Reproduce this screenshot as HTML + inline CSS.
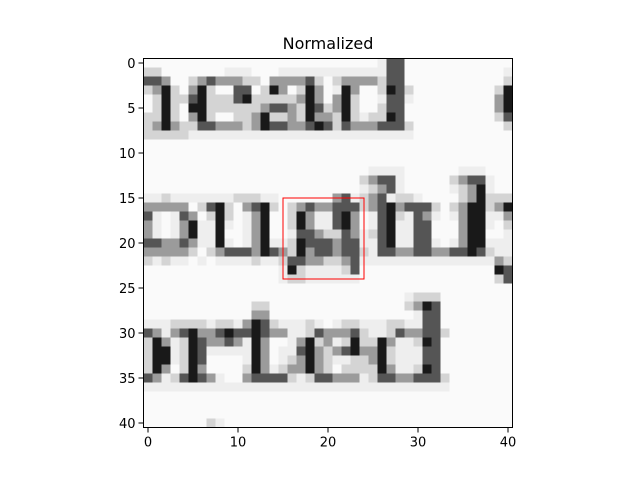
<!DOCTYPE html>
<html><head><meta charset="utf-8"><style>
html,body{margin:0;padding:0;background:#fff;}
svg{display:block;font-family:"DejaVu Sans","Liberation Sans",sans-serif;}
</style></head><body>
<svg id="chart" width="640" height="480" viewBox="0 0 640 480" xmlns="http://www.w3.org/2000/svg">
<rect width="640" height="480" fill="#fff"/>
<text x="328" y="49" text-anchor="middle" font-size="16" fill="#000">Normalized</text>
<g id="cells" shape-rendering="crispEdges"></g>
<g id="overlay"></g>
<g id="axes"></g>
</svg>
<script>
const imageRows = [
"..........................,##............",
"::.......,,,...,,,,,,,,,,,,##...........,",
"##+..:+#+++::.++++#:.:++++:##...........:",
":+@:.+@:..##.:@+.:@+.,@+..:@#:.........:@",
".:@::#@:::#@:::::+@+.+@:..,##,.........+@",
".:@:.@@::::::+##+:@#:+@:..:##..........+@",
"::@:.+@:..::+@::+:@++:@:,::@#..........:#",
":+@+::##+++:+@##++#@#:#+++###:..........:",
":::::,,,,,,,,,,,,,,,,,,,,,,,,,...........",
".........................................",
".........................................",
".........................................",
".........................,,,,......,,,...",
"........................:+##,.....:+##,..",
"........................,:+#,.....,:+@,..",
",,:,,,,,,,:::,,......+#,:+#,::,....:+@:::",
"+++++.:#@:.+#@:.:+#++###:+#@+###:.:+@@:+@",
"#,.,#+.:@:.,+@..:@+,,#@+.,#@:,#+,.,+@@,,+",
"+,.,+@,,@,.,+@..:@+,,#@+.,#@,,##...+@@,.:",
"+,.,+@,,@..,+@..,##+::#+,:#@,,##...+@@..,",
"##++#+,,@,.,+@,,:@###+##,,#@,,##,.,+@@,,,",
"+++++:.:+###+@#+:@+##+##:,##++##++##@#:,,",
":,:,,.,.,,,,:,,:##++::+#,,,,,,,,,,,,,,,+:",
"...............,@:,,,,:#...............@#",
"...............,::,,,,,,...............:#",
".........................................",
".............................,:::........",
"............::...............:+@#........",
"............++................,##........",
",,,::::,::,+@#:,,,:,.,::,,,::,,##........",
"#+,+#@++#@##@#++,,:#+++#:,,:#++##:.......",
":@+,:@#++#+,@+..,+@:+,:@::@+,,:@#........",
":@@,:@#,,,,,@+.,,#@+:+#@++@:,,,##........",
":@@,:@#....,@+.,:+@+:,,::+@:,,,##........",
":@+.:@+....:@+,:++@+:.::::@+,,:@#........",
"#+,:#@#+,..+####:,:##+++,:##++###:.......",
",,,,,,,,,,,,,,,,,,,,,,,,,,,,,,,,,,.......",
".........................................",
".........................................",
".........................................",
".......:,................................"
];
const levelChars = [".", ",", ":", "+", "#", "@"];
const levelGray = [250, 238, 212, 155, 85, 25];
const xTicks = [0, 10, 20, 30, 40];
const yTicks = [0, 5, 10, 15, 20, 25, 30, 35, 40];
const boxX = [15, 24];
const boxY = [15, 24];

const NS = "http://www.w3.org/2000/svg";
const X0 = 143.5, Y0 = 58.5, CW = 9;
function sx(v){ return X0 + (v + 0.5) * CW; }
function sy(v){ return Y0 + (v + 0.5) * CW; }
const nCols = imageRows[0].length, nRows = imageRows.length;

const cells = document.getElementById('cells');
for (let r = 0; r < nRows; r++) {
  for (let c = 0; c < nCols; c++) {
    const g = levelGray[levelChars.indexOf(imageRows[r][c])];
    const rect = document.createElementNS(NS, 'rect');
    
    
    rect.setAttribute('x', sx(c - 0.5));
    rect.setAttribute('y', sy(r - 0.5));
    rect.setAttribute('width', CW + 0.3);
    rect.setAttribute('height', CW + 0.3);
    rect.setAttribute('fill', `rgb(${g},${g},${g})`);
    cells.appendChild(rect);
  }
}

const overlay = document.getElementById('overlay');
const box = document.createElementNS(NS, 'rect');


box.setAttribute('x', sx(boxX[0]));
box.setAttribute('y', sy(boxY[0]));
box.setAttribute('width', sx(boxX[1]) - sx(boxX[0]));
box.setAttribute('height', sy(boxY[1]) - sy(boxY[0]));
box.setAttribute('fill', 'none');
box.setAttribute('stroke', 'red');
box.setAttribute('stroke-width', '1');
overlay.appendChild(box);

const axes = document.getElementById('axes');
const frame = document.createElementNS(NS, 'rect');


frame.setAttribute('x', sx(-0.5));
frame.setAttribute('y', sy(-0.5));
frame.setAttribute('width', nCols * CW);
frame.setAttribute('height', nRows * CW);
frame.setAttribute('fill', 'none');
frame.setAttribute('stroke', '#000');
frame.setAttribute('stroke-width', '1');
axes.appendChild(frame);

const bottom = sy(nRows - 0.5), left = sx(-0.5);
xTicks.forEach(v => {
  const x = sx(v);
  const t = document.createElementNS(NS, 'line');
  
  
  t.setAttribute('x1', x); t.setAttribute('x2', x);
  t.setAttribute('y1', bottom); t.setAttribute('y2', bottom + 5);
  t.setAttribute('stroke', '#000');
  axes.appendChild(t);
  const l = document.createElementNS(NS, 'text');
  
  
  l.setAttribute('x', x); l.setAttribute('y', bottom + 19);
  l.setAttribute('text-anchor', 'middle');
  l.setAttribute('font-size', '13');
  l.textContent = v;
  axes.appendChild(l);
});
yTicks.forEach(v => {
  const y = sy(v);
  const t = document.createElementNS(NS, 'line');
  
  
  t.setAttribute('x1', left - 5); t.setAttribute('x2', left);
  t.setAttribute('y1', y); t.setAttribute('y2', y);
  t.setAttribute('stroke', '#000');
  axes.appendChild(t);
  const l = document.createElementNS(NS, 'text');
  
  
  l.setAttribute('x', left - 8); l.setAttribute('y', y + 5);
  l.setAttribute('text-anchor', 'end');
  l.setAttribute('font-size', '13');
  l.textContent = v;
  axes.appendChild(l);
});
</script>
</body></html>
